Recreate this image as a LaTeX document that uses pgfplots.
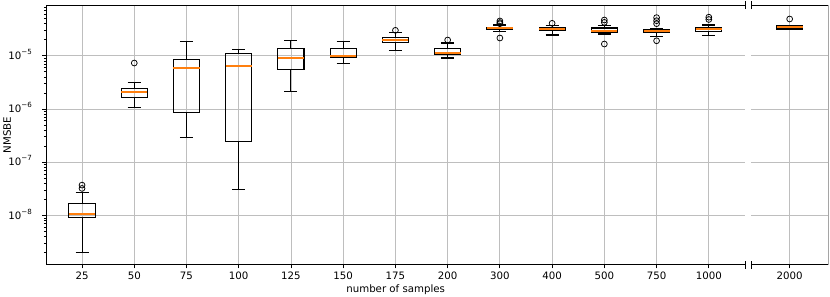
\documentclass[border=0pt]{standalone}
\usepackage{fontspec}
\setmainfont{DejaVu Sans}
\usepackage{pgfplots}
\pgfplotsset{compat=1.18}
\usepgfplotslibrary{statistics}
\definecolor{medc}{RGB}{255,127,14}
\definecolor{gridc}{RGB}{190,190,190}
\newcommand{\tenpow}[1]{10\smash{\raisebox{3.6pt}{\fontsize{5.1}{6}\selectfont −#1}}}
% values are log10(NMSBE)
\pgfplotsset{
  boxstyle/.style={black, line width=0.75pt, mark=o, mark size=2.1pt,
    mark options={black, line width=0.55pt, fill=none, solid},
    boxplot/draw direction=y,
    boxplot/box extend=0.5, boxplot/whisker extend=0.25,
    boxplot/every median/.style={draw=medc, line width=1.2pt}},
  common/.style={scale only axis, height=187pt,
    ymin=-8.928, ymax=-4.047,
    ytick={-8,-7,-6,-5},
    minor ytick={-8.699,-8.523,-8.398,-8.301,-8.222,-8.155,-8.097,-8.046,
                 -7.699,-7.523,-7.398,-7.301,-7.222,-7.155,-7.097,-7.046,
                 -6.699,-6.523,-6.398,-6.301,-6.222,-6.155,-6.097,-6.046,
                 -5.699,-5.523,-5.398,-5.301,-5.222,-5.155,-5.097,-5.046,
                 -4.699,-4.523,-4.398,-4.301,-4.222,-4.155,-4.097},
    grid=major, major grid style={gridc, line width=0.6pt},
    tick align=outside, xtick pos=bottom, ytick pos=left,
    major tick length=2.6pt, minor tick length=1.5pt,
    major tick style={black, line width=0.6pt},
    minor tick style={black, line width=0.45pt},
    axis line style={draw=none},
    xticklabel style={font=\fontsize{7.35}{9}\selectfont, yshift=1.0pt},
    yticklabel style={font=\fontsize{7.35}{9}\selectfont, xshift=-4.1pt},
    label style={font=\fontsize{7.35}{9}\selectfont}}
}
\begin{document}
\begin{tikzpicture}
\begin{axis}[common, name=main, at={(0,0)}, anchor=south west,
  width=503.3pt,
  xmin=0.31, xmax=13.70,
  xtick={1,...,13},
  xticklabels={25,50,75,100,125,150,175,200,300,400,500,750,1000},
  yticklabels={\tenpow{8},\tenpow{7},\tenpow{6},\tenpow{5}},
  xlabel={number of samples}, ylabel={NMSBE},
  xlabel style={at={(axis description cs:0.5,-0.0957)}, anchor=center},
  ylabel style={at={(axis description cs:-0.0556,0.5)}, anchor=center}]
\addplot[boxstyle, boxplot prepared={draw position=1, lower whisker=-8.703, lower quartile=-8.038, median=-7.970, upper quartile=-7.782, upper whisker=-7.568}] coordinates {(1,-7.492) (1,-7.430)};
\addplot[boxstyle, boxplot prepared={draw position=2, lower whisker=-5.979, lower quartile=-5.776, median=-5.677, upper quartile=-5.620, upper whisker=-5.508}] coordinates {(2,-5.137)};
\addplot[boxstyle, boxplot prepared={draw position=3, lower whisker=-6.534, lower quartile=-6.058, median=-5.226, upper quartile=-5.062, upper whisker=-4.724}] coordinates {};
\addplot[boxstyle, boxplot prepared={draw position=4, lower whisker=-7.506, lower quartile=-6.609, median=-5.199, upper quartile=-4.962, upper whisker=-4.887}] coordinates {};
\addplot[boxstyle, boxplot prepared={draw position=5, lower whisker=-5.669, lower quartile=-5.256, median=-5.043, upper quartile=-4.861, upper whisker=-4.705}] coordinates {};
\addplot[boxstyle, boxplot prepared={draw position=6, lower whisker=-5.150, lower quartile=-5.024, median=-5.000, upper quartile=-4.868, upper whisker=-4.724}] coordinates {};
\addplot[boxstyle, boxplot prepared={draw position=7, lower whisker=-4.906, lower quartile=-4.748, median=-4.699, upper quartile=-4.649, upper whisker=-4.568}] coordinates {(7,-4.523)};
\addplot[boxstyle, boxplot prepared={draw position=8, lower whisker=-5.043, lower quartile=-4.981, median=-4.944, upper quartile=-4.868, upper whisker=-4.761}] coordinates {(8,-4.705)};
\addplot[boxstyle, boxplot prepared={draw position=9, lower whisker=-4.536, lower quartile=-4.504, median=-4.485, upper quartile=-4.466, upper whisker=-4.423}] coordinates {(9,-4.347) (9,-4.377) (9,-4.398) (9,-4.667)};
\addplot[boxstyle, boxplot prepared={draw position=10, lower whisker=-4.611, lower quartile=-4.530, median=-4.498, upper quartile=-4.466, upper whisker=-4.428}] coordinates {(10,-4.391)};
\addplot[boxstyle, boxplot prepared={draw position=11, lower whisker=-4.592, lower quartile=-4.561, median=-4.530, upper quartile=-4.479, upper whisker=-4.428}] coordinates {(11,-4.329) (11,-4.373) (11,-4.780)};
\addplot[boxstyle, boxplot prepared={draw position=12, lower whisker=-4.631, lower quartile=-4.572, median=-4.536, upper quartile=-4.510, upper whisker=-4.485}] coordinates {(12,-4.284) (12,-4.342) (12,-4.398) (12,-4.719)};
\addplot[boxstyle, boxplot prepared={draw position=13, lower whisker=-4.618, lower quartile=-4.541, median=-4.504, upper quartile=-4.466, upper whisker=-4.423}] coordinates {(13,-4.276) (13,-4.319)};
\draw[line width=0.6pt] (rel axis cs:1,0) -- (rel axis cs:0,0) -- (rel axis cs:0,1) -- (rel axis cs:1,1);
\end{axis}
\begin{axis}[common, name=right, at={(main.south east)}, anchor=south west, xshift=4.3pt,
  width=55.4pt,
  xmin=0.266, xmax=1.741,
  xtick={1}, xticklabels={2000},
  yticklabels={}, ytick style={draw=none}, minor ytick={}]
\addplot[boxstyle, boxplot prepared={draw position=1, lower whisker=-4.516, lower quartile=-4.498, median=-4.466, upper quartile=-4.441, upper whisker=-4.428}] coordinates {(1,-4.310)};
\draw[line width=0.6pt] (rel axis cs:0,0) -- (rel axis cs:1,0) -- (rel axis cs:1,1) -- (rel axis cs:0,1);
\end{axis}
\draw[line width=0.75pt] ([yshift=-2.9pt]main.north east) -- ([yshift=2.9pt]main.north east);
\draw[line width=0.75pt] ([yshift=-2.9pt]main.south east) -- ([yshift=2.9pt]main.south east);
\draw[line width=0.75pt] ([yshift=-2.9pt]right.north west) -- ([yshift=2.9pt]right.north west);
\draw[line width=0.75pt] ([yshift=-2.9pt]right.south west) -- ([yshift=2.9pt]right.south west);
\pgfresetboundingbox
\path ([xshift=-33.1pt,yshift=-22.5pt]main.south west) rectangle ([xshift=1.2pt,yshift=3.6pt]right.north east);
\end{tikzpicture}
\end{document}
